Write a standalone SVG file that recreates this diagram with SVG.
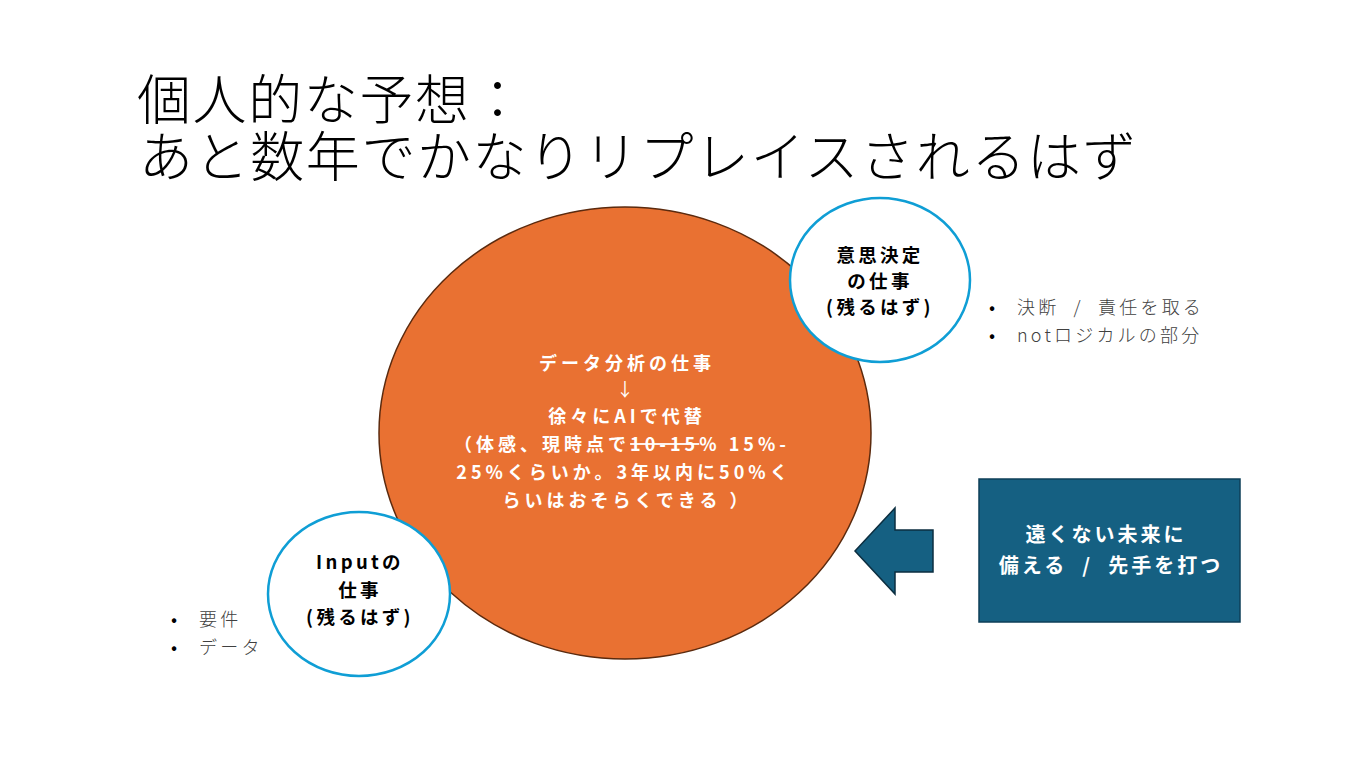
<svg xmlns="http://www.w3.org/2000/svg" width="1361" height="765" viewBox="0 0 1361 765">
<style>
text{font-family:"Noto Sans CJK JP","Noto Sans",sans-serif}
.title{font-size:54px;fill:#000;font-weight:300;letter-spacing:1.6px}
.ctr{font-size:18px;font-weight:700;fill:#fff;text-anchor:middle;letter-spacing:4px}
.lbl{font-size:18.5px;font-weight:700;fill:#000;text-anchor:middle;letter-spacing:3.3px}
.bul{font-size:18px;fill:#404040;font-weight:300;letter-spacing:3.2px}
.dot{font-size:18px;fill:#000}
.box{font-size:20px;font-weight:700;fill:#fff;text-anchor:middle;letter-spacing:3px}
.small{fill:#fff;stroke:#0F9ED5;stroke-width:2.5}
</style>
<rect width="1361" height="765" fill="#fff"/>
<g id="title">
<text class="title"><tspan x="137" y="120">個人的な予想：</tspan><tspan x="139" y="177">あと数年でかなりリプレイスされるはず</tspan></text>
</g>
<g id="main">
<ellipse cx="625" cy="433" rx="246" ry="226" fill="#E97132" stroke="#5B2A0E" stroke-width="1.5"/>
<text class="ctr" x="627" y="370">データ分析の仕事</text>
<text class="ctr" x="627" y="396" style="font-weight:400">↓</text>
<text class="ctr" x="627" y="423">徐々にAIで代替</text>
<text class="ctr" x="622" y="451">（体感、現時点で<tspan text-decoration="line-through">10-15</tspan>% 15%-</text>
<text class="ctr" x="624" y="479">25%くらいか。3年以内に50%く</text>
<text class="ctr" x="627" y="507">らいはおそらくできる ）</text>
</g>
<g id="decision">
<ellipse class="small" cx="880" cy="280" rx="90" ry="82"/>
<text class="lbl" x="880" y="262">意思決定</text>
<text class="lbl" x="880" y="288">の仕事</text>
<text class="lbl" x="880" y="314">(残るはず)</text>
</g>
<g id="decision-notes">
<text class="dot" x="989" y="314">•</text>
<text class="bul" x="1017" y="314">決断<tspan dx="7"> / </tspan><tspan dx="7">責任を取る</tspan></text>
<text class="dot" x="989" y="342">•</text>
<text class="bul" x="1017" y="342">notロジカルの部分</text>
</g>
<g id="input">
<ellipse class="small" cx="359" cy="594" rx="91" ry="82"/>
<text class="lbl" x="360" y="569">Inputの</text>
<text class="lbl" x="360" y="597">仕事</text>
<text class="lbl" x="360" y="624">(残るはず)</text>
</g>
<g id="input-notes">
<text class="dot" x="171" y="626">•</text>
<text class="bul" x="199" y="626">要件</text>
<text class="dot" x="171" y="654">•</text>
<text class="bul" x="199" y="654">データ</text>
</g>
<g id="future">
<rect x="979" y="479" width="261" height="143" fill="#156082" stroke="#0E3F58" stroke-width="1.5"/>
<text class="box" x="1106" y="542">遠くない未来に</text>
<text class="box" x="1111" y="573">備える&#160;&#160;/&#160;&#160;先手を打つ</text>
</g>
<g id="connectors">
<polygon points="855,551 895,508 895,530 933,530 933,572 895,572 895,594" fill="#156082" stroke="#0B2E40" stroke-width="1.5" stroke-linejoin="miter"/>
</g>
</svg>
